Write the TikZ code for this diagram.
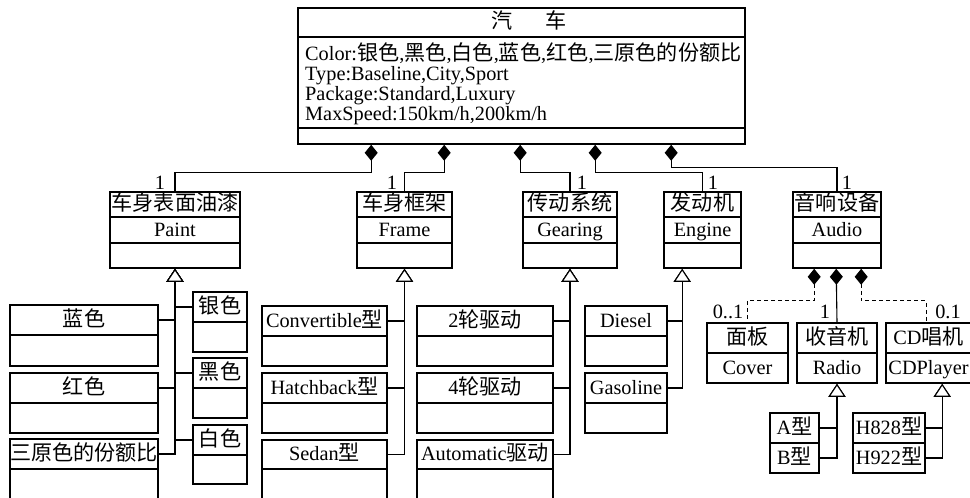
\documentclass[tikz,border=0pt]{standalone}
\usepackage{fontspec}
\setmainfont{Liberation Serif}
\newfontfamily\cjk[Scale=1.04]{Noto Sans CJK SC}
\usetikzlibrary{fit,arrows.meta}
\tikzset{
  box/.style={draw, line width=1.6pt, inner sep=0pt},
  row/.style={draw, line width=1.3pt, inner sep=0pt},
  lbl/.style={inner sep=0pt, text height=15pt, text depth=3pt},
  conn/.style={line width=1.1pt},
  comp/.style={conn, {Diamond[length=16pt,width=13pt]}-},
  gen/.style={conn, -{Triangle[open,length=13pt,width=17pt,fill=white]}},
  mult/.style={inner sep=0pt, anchor=base},
  attr/.style={inner sep=0pt, anchor=base west},
}
\newcommand{\rowbox}[6]{%
  \node[row, fit={(#2,#3) (#4,#5)}] (#1) {};
  \node[lbl] (#1-l) at ({(#2+#4)/2},{(#3+#5)/2}) {#6};}
\begin{document}
\begin{tikzpicture}[x=1pt,y=-1pt,font=\fontsize{20.3}{21}\selectfont]
\useasboundingbox (0,0) rectangle (970,498);
\clip (0,0) rectangle (970,498);
% ---------- Car ----------
\node[box, fit={(298,8) (745,144)}] (car) {};
\node[row, fit={(298,8) (745,37)}] (car-t) {};
\node[lbl] (car-title) at (529,22.5) {\cjk 汽\hspace{33pt}车};
\node[row, fit={(298,37) (745,128)}] (car-a) {};
\node[attr] (attr1) at (305,60) {Color:{\cjk 银色},{\cjk 黑色},{\cjk 白色},{\cjk 蓝色},{\cjk 红色},{\cjk 三原色的份额比}};
\node[attr] (attr2) at (305,80.3) {Type:Baseline,City,Sport};
\node[attr] (attr3) at (305,100.5) {Package:Standard,Luxury};
\node[attr] (attr4) at (305,120.7) {MaxSpeed:150km/h,200km/h};
% ---------- second level ----------
\node[box, fit={(110,192) (240,268)}] (paint) {};
\rowbox{paint-t}{110}{192}{240}{217}{\cjk 车身表面油漆}
\rowbox{paint-n}{110}{217}{240}{243}{Paint}
\node[box, fit={(357,192) (452,268)}] (frame) {};
\rowbox{frame-t}{357}{192}{452}{217}{\cjk 车身框架}
\rowbox{frame-n}{357}{217}{452}{243}{Frame}
\node[box, fit={(523,192) (617,268)}] (gearing) {};
\rowbox{gearing-t}{523}{192}{617}{217}{\cjk 传动系统}
\rowbox{gearing-n}{523}{217}{617}{243}{Gearing}
\node[box, fit={(664,192) (741,268)}] (engine) {};
\rowbox{engine-t}{664}{192}{741}{217}{\cjk 发动机}
\rowbox{engine-n}{664}{217}{741}{243}{Engine}
\node[box, fit={(793,192) (881,268)}] (audio) {};
\rowbox{audio-t}{793}{192}{881}{217}{\cjk 音响设备}
\rowbox{audio-n}{793}{217}{881}{243}{Audio}
% ---------- paint children ----------
\node[box, fit={(10,305) (158,366)}] (blue) {};
\rowbox{blue-t}{10}{305}{158}{335}{\cjk 蓝色}
\node[box, fit={(10,373) (158,433)}] (red) {};
\rowbox{red-t}{10}{373}{158}{403}{\cjk 红色}
\node[box, fit={(10,439) (158,505)}] (tri) {};
\rowbox{tri-t}{10}{439}{158}{469}{\cjk 三原色的份额比}
\node[box, fit={(193,292) (247,352)}] (silver) {};
\rowbox{silver-t}{193}{292}{247}{322}{\cjk 银色}
\node[box, fit={(193,358) (247,418)}] (black) {};
\rowbox{black-t}{193}{358}{247}{388}{\cjk 黑色}
\node[box, fit={(193,425) (247,484)}] (white) {};
\rowbox{white-t}{193}{425}{247}{455}{\cjk 白色}
% ---------- frame children ----------
\node[box, fit={(262,306) (387,366)}] (conv) {};
\rowbox{conv-t}{262}{306}{387}{336}{Convertible{\cjk 型}}
\node[box, fit={(262,373) (387,433)}] (hatch) {};
\rowbox{hatch-t}{262}{373}{387}{403}{Hatchback{\cjk 型}}
\node[box, fit={(262,440) (387,505)}] (sedan) {};
\rowbox{sedan-t}{262}{440}{387}{469}{Sedan{\cjk 型}}
% ---------- gearing children ----------
\node[box, fit={(417,306) (553,366)}] (g2) {};
\rowbox{g2-t}{417}{306}{553}{336}{2{\cjk 轮驱动}}
\node[box, fit={(417,373) (553,433)}] (g4) {};
\rowbox{g4-t}{417}{373}{553}{403}{4{\cjk 轮驱动}}
\node[box, fit={(417,440) (553,505)}] (gauto) {};
\rowbox{gauto-t}{417}{440}{553}{469}{Automatic{\cjk 驱动}}
% ---------- engine children ----------
\node[box, fit={(585,306) (667,366)}] (diesel) {};
\rowbox{diesel-t}{585}{306}{667}{336}{Diesel}
\node[box, fit={(585,373) (667,433)}] (gas) {};
\rowbox{gas-t}{585}{373}{667}{403}{Gasoline}
% ---------- audio children ----------
\node[box, fit={(707,323) (788,383)}] (cover) {};
\rowbox{cover-t}{707}{323}{788}{353}{\cjk 面板}
\rowbox{cover-n}{707}{353}{788}{383}{Cover}
\node[box, fit={(797,323) (877,383)}] (radio) {};
\rowbox{radio-t}{797}{323}{877}{353}{\cjk 收音机}
\rowbox{radio-n}{797}{353}{877}{383}{Radio}
\node[box, fit={(886,323) (971,383)}] (cd) {};
\rowbox{cd-t}{886}{323}{971}{353}{CD{\cjk 唱机}}
\rowbox{cd-n}{886}{353}{971}{383}{CDPlayer}
\rowbox{ra}{770}{413}{819}{443}{A{\cjk 型}}
\rowbox{rb}{770}{443}{819}{473}{B{\cjk 型}}
\rowbox{h1}{853}{413}{925}{443}{H828{\cjk 型}}
\rowbox{h2}{853}{443}{925}{473}{H922{\cjk 型}}
% ---------- compositions ----------
\draw[comp] ([xshift=74pt]car.south west) -- ++(0,28) -| (paint.north);
\draw[comp] ([xshift=147pt]car.south west) -- ++(0,28) -| (frame.north);
\draw[comp] ([xshift=223pt]car.south west) -- ++(0,28) -| (gearing.north);
\draw[comp] ([xshift=298pt]car.south west) -- ++(0,28) -| (engine.north);
\draw[comp] ([xshift=374pt]car.south west) -- ++(0,23) -| (audio.north);
\draw[comp, dash pattern=on 4pt off 3pt] ([xshift=22pt]audio.south west) -- ++(0,32) -| (cover.north);
\draw[comp] ([xshift=44pt]audio.south west) -- (radio.north);
\draw[comp, dash pattern=on 4pt off 3pt] ([xshift=69pt]audio.south west) -- ++(0,32) -| ([xshift=41pt]cd.north west);
% ---------- multiplicities ----------
\node[mult] (m-paint) at (160,189) {1};
\node[mult] (m-frame) at (392,189) {1};
\node[mult] (m-gear) at (582,189) {1};
\node[mult] (m-eng) at (713,189) {1};
\node[mult] (m-audio) at (847,189) {1};
\node[mult] (m-cover) at (728,318) {0..1};
\node[mult] (m-radio) at (825,318) {1};
\node[mult] (m-cd) at (948,318) {0.1};
% ---------- generalizations ----------
\draw[gen] (blue-t.east) -| (paint.south);
\draw[gen] (red-t.east) -| (paint.south);
\draw[gen] (tri-t.east) -| (paint.south);
\draw[gen] (silver-t.west) -| (paint.south);
\draw[gen] (black-t.west) -| (paint.south);
\draw[gen] (white-t.west) -| (paint.south);
\draw[gen] (conv-t.east) -| (frame.south);
\draw[gen] (hatch-t.east) -| (frame.south);
\draw[gen] (sedan-t.east) -| (frame.south);
\draw[gen] (g2-t.east) -| (gearing.south);
\draw[gen] (g4-t.east) -| (gearing.south);
\draw[gen] (gauto-t.east) -| (gearing.south);
\draw[gen] (diesel-t.east) -| ([xshift=19pt]engine.south west);
\draw[gen] (gas-t.east) -| ([xshift=19pt]engine.south west);
\draw[gen] (ra.east) -| (radio.south);
\draw[gen] (rb.east) -| (radio.south);
\draw[gen] (h1.east) -| ([xshift=57pt]cd.south west);
\draw[gen] (h2.east) -| ([xshift=57pt]cd.south west);
\end{tikzpicture}
\end{document}
